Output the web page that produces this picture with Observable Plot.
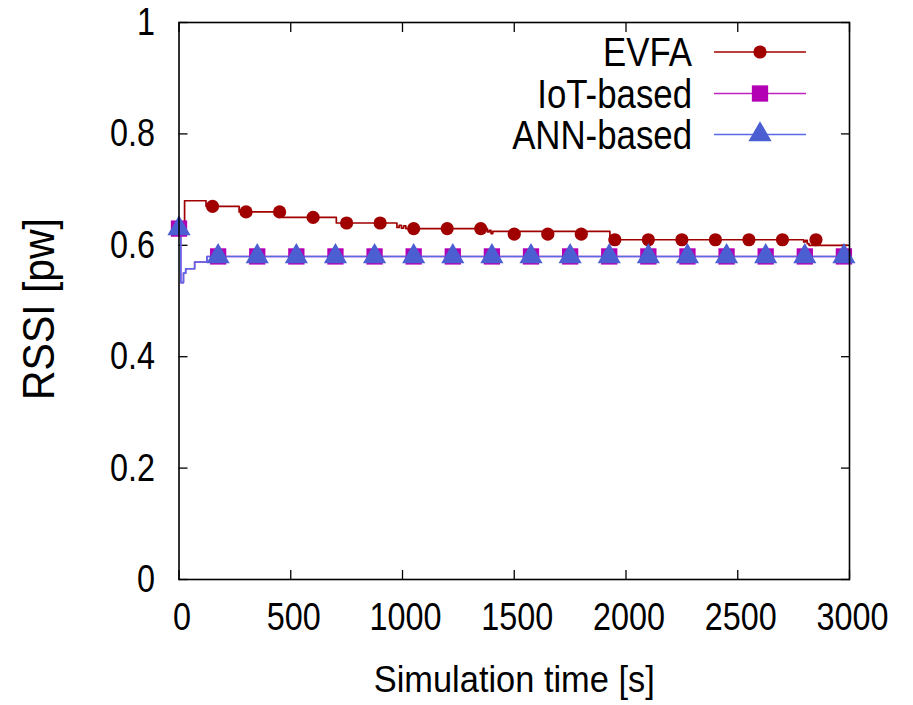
<!DOCTYPE html>
<html>
<head>
<meta charset="utf-8">
<script src="https://cdn.jsdelivr.net/npm/d3@7"></script>
<script src="https://cdn.jsdelivr.net/npm/@observablehq/plot@0.6"></script>
<style>
  html, body { margin: 0; padding: 0; background: #fff; }
  #chart { width: 913px; height: 705px; }
</style>
</head>
<body>
<div id="chart"></div>
<script>
// ---- data ----
const xTicks = [0, 500, 1000, 1500, 2000, 2500, 3000];
const yTicks = [0, 0.2, 0.4, 0.6, 0.8, 1];
const seriesNames = ["EVFA", "IoT-based", "ANN-based"];

// EVFA line breakpoints (step-after)
const evfaLineTime  = [0, 25, 121, 269, 462, 704, 975, 985, 995, 1005, 1015, 1380, 1388, 1396, 1404, 1928, 2795, 2803, 2811, 2819, 2990];
const evfaLineValue = [0.63, 0.68, 0.67, 0.66, 0.65, 0.64, 0.632, 0.636, 0.631, 0.635, 0.63, 0.624, 0.627, 0.621, 0.625, 0.61, 0.606, 0.609, 0.603, 0.60, 0.60];
// EVFA markers
const evfaMarkTime  = [150, 300, 450, 600, 750, 900, 1050, 1200, 1350, 1500, 1650, 1800, 1950, 2100, 2250, 2400, 2550, 2700, 2850];
const evfaMarkValue = [0.67, 0.66, 0.66, 0.65, 0.64, 0.64, 0.63, 0.63, 0.63, 0.62, 0.62, 0.62, 0.61, 0.61, 0.61, 0.61, 0.61, 0.61, 0.61];

// IoT-based line and markers
const iotLineTime  = [0, 8, 20, 30, 70, 125, 2990];
const iotLineValue = [0.63, 0.533, 0.55, 0.558, 0.57, 0.58, 0.58];
const iotMarkTime  = [0, 175, 350, 525, 700, 875, 1050, 1225, 1400, 1575, 1750, 1925, 2100, 2275, 2450, 2625, 2800, 2975];
const iotMarkValue = [0.63, 0.58, 0.58, 0.58, 0.58, 0.58, 0.58, 0.58, 0.58, 0.58, 0.58, 0.58, 0.58, 0.58, 0.58, 0.58, 0.58, 0.58];

// ANN-based line and markers
const annLineTime  = [0, 8, 20, 30, 70, 125, 2990];
const annLineValue = [0.63, 0.533, 0.55, 0.558, 0.57, 0.58, 0.58];
const annMarkTime  = [0, 175, 350, 525, 700, 875, 1050, 1225, 1400, 1575, 1750, 1925, 2100, 2275, 2450, 2625, 2800, 2975];
const annMarkValue = [0.63, 0.58, 0.58, 0.58, 0.58, 0.58, 0.58, 0.58, 0.58, 0.58, 0.58, 0.58, 0.58, 0.58, 0.58, 0.58, 0.58, 0.58];

// ---- build tables ----
const rows = (T, V) => T.map((t, i) => ({t, v: V[i]}));
const evfaLine = rows(evfaLineTime, evfaLineValue);
const evfaMarks = rows(evfaMarkTime, evfaMarkValue);
const iotLine = rows(iotLineTime, iotLineValue);
const iotMarks = rows(iotMarkTime, iotMarkValue);
const annLine = rows(annLineTime, annLineValue);
const annMarks = rows(annMarkTime, annMarkValue);

const colors = {evfa: "#a00000", iot: "#b400b4", iotLine: "#c020c0", ann: "#4b5fd3", annLine: "#5a6ae6"};
const font = "'Liberation Sans', Arial, sans-serif";

const chart = Plot.plot({
  width: 913,
  height: 705,
  marginLeft: 178.5,
  marginRight: 64,
  marginTop: 22,
  marginBottom: 126,
  x: {domain: [0, 3000]},
  y: {domain: [0, 1]},
  style: {fontFamily: font, background: "#fff", color: "#000"},
  marks: [
    // tick labels
    Plot.axisX(xTicks, {anchor: "bottom", tickSize: 0, tickPadding: 23, dx: 3, fontSize: 39, tickFormat: d => String(d), label: null}),
    Plot.axisY(yTicks, {anchor: "left", tickSize: 0, tickPadding: 24, fontSize: 39, tickFormat: d => String(d), label: null}),
    // inward ticks, mirrored
    Plot.axisX(xTicks, {anchor: "bottom", tickSize: -9, tickFormat: () => "", label: null, strokeWidth: 1.3}),
    Plot.axisX(xTicks, {anchor: "top", tickSize: -9, tickFormat: () => "", label: null, strokeWidth: 1.3}),
    Plot.axisY(yTicks, {anchor: "left", tickSize: -9, tickFormat: () => "", label: null, strokeWidth: 1.3}),
    Plot.axisY(yTicks, {anchor: "right", tickSize: -9, tickFormat: () => "", label: null, strokeWidth: 1.3}),
    // series
    Plot.line(evfaLine, {x: "t", y: "v", curve: "step-after", stroke: colors.evfa, strokeWidth: 1.7}),
    Plot.line(iotLine, {x: "t", y: "v", curve: "step-after", stroke: colors.iotLine, strokeWidth: 1.6}),
    Plot.line(annLine, {x: "t", y: "v", curve: "step-after", stroke: colors.annLine, strokeWidth: 1.6}),
    Plot.dot(evfaMarks, {x: "t", y: "v", r: 6.6, fill: colors.evfa, stroke: null, symbol: "circle"}),
    Plot.dot(iotMarks, {x: "t", y: "v", r: 9.2, fill: colors.iot, stroke: null, symbol: "square"}),
    Plot.dot(annMarks, {x: "t", y: "v", r: 8.6, fill: colors.ann, stroke: null, symbol: "triangle"}),
    // frame
    Plot.frame({stroke: "#000", strokeWidth: 1.6}),
    // axis titles
    Plot.text(["Simulation time [s]"], {frameAnchor: "bottom", textAnchor: "middle", lineAnchor: "middle", dy: 100.5, fontSize: 37, fill: "#000"}),
    Plot.text(["RSSI [pw]"], {frameAnchor: "left", textAnchor: "middle", lineAnchor: "middle", rotate: -90, dx: -139, dy: 8, fontSize: 44, fill: "#000"})
  ]
});

document.getElementById("chart").appendChild(chart);

// ---- legend inside the plot (top right) ----
const svg = d3.select(chart);
const legendItems = [
  {name: seriesNames[0], line: colors.evfa, fill: colors.evfa, symbol: d3.symbolCircle, r: 6.6},
  {name: seriesNames[1], line: colors.iotLine, fill: colors.iot, symbol: d3.symbolSquare, r: 9.2},
  {name: seriesNames[2], line: colors.annLine, fill: colors.ann, symbol: d3.symbolTriangle, r: 8.6}
];
const rowY = [52, 93.5, 134.5];
const g = svg.append("g").attr("class", "legend").attr("font-family", font);
legendItems.forEach((d, i) => {
  const y = rowY[i];
  g.append("text")
    .attr("class", "legend-label")
    .attr("x", 692).attr("y", y).attr("dy", "0.36em")
    .attr("text-anchor", "end")
    .attr("font-size", 40)
    .attr("fill", "#000")
    .text(d.name);
  g.append("line")
    .attr("x1", 714).attr("x2", 806).attr("y1", y).attr("y2", y)
    .attr("stroke", d.line).attr("stroke-width", 1.6);
  g.append("path")
    .attr("transform", `translate(760,${y})`)
    .attr("d", d3.symbol(d.symbol, d.r * d.r * Math.PI)())
    .attr("fill", d.fill);
});

// ---- condense the text horizontally (the reference uses a narrow face) ----
function condense(selection, s, mode) {
  selection.each(function () {
    const b = this.getBBox();
    if (!b.width) return;
    const cx = mode === "end" ? b.x + b.width : mode === "start" ? b.x : b.x + b.width / 2;
    const old = this.getAttribute("transform") || "";
    this.setAttribute("transform", `${old} translate(${cx},0) scale(${s},1) translate(${-cx},0)`);
  });
}
condense(svg.selectAll('g[aria-label="x-axis tick label"] text'), 0.83, "middle");
condense(svg.selectAll('g[aria-label="y-axis tick label"] text'), 0.83, "end");
condense(svg.selectAll('g[aria-label="text"] text'), 0.93, "middle");
condense(svg.selectAll('text.legend-label'), 0.87, "end");
</script>
</body>
</html>
